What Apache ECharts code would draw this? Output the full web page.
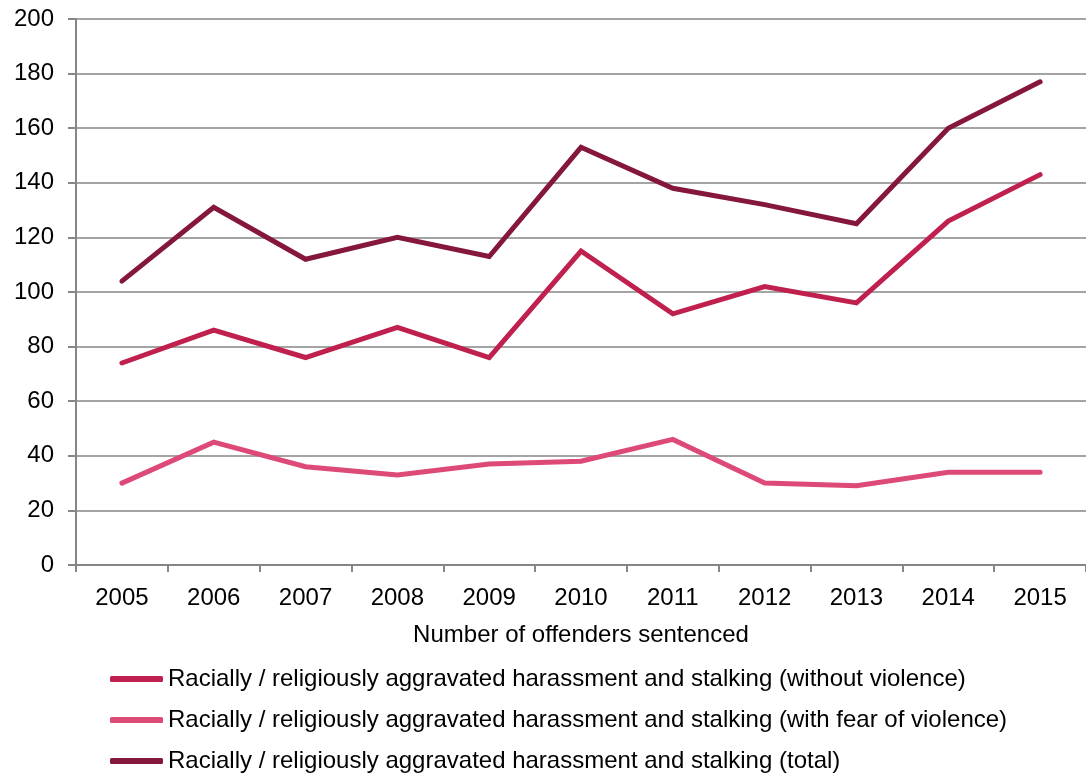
<!DOCTYPE html>
<html>
<head>
<meta charset="utf-8">
<script src="https://cdn.jsdelivr.net/npm/echarts@6/dist/echarts.min.js"></script>
<style>
  html, body { margin: 0; padding: 0; background: #fff; }
  #chart { width: 1086px; height: 778px; }
</style>
</head>
<body>
<div id="chart"></div>
<script>
// Offenders sentenced for racially / religiously aggravated harassment and stalking
const years = ['2005', '2006', '2007', '2008', '2009', '2010', '2011', '2012', '2013', '2014', '2015'];
const withoutViolence = [74, 86, 76, 87, 76, 115, 92, 102, 96, 126, 143];
const fearOfViolence = [30, 45, 36, 33, 37, 38, 46, 30, 29, 34, 34];
const totalOffenders = [104, 131, 112, 120, 113, 153, 138, 132, 125, 160, 177];

const seriesNames = [
  'Racially / religiously aggravated harassment and stalking (without violence)',
  'Racially / religiously aggravated harassment and stalking (with fear of violence)',
  'Racially / religiously aggravated harassment and stalking (total)'
];
const colors = ['#C0204E', '#DE4A77', '#85183A'];

const FONT = '"Liberation Sans", Arial, sans-serif';
const FONT_SIZE = 24;
const axisGrey = '#868686';

function lineSeries(name, data, color) {
  return {
    name: name,
    type: 'line',
    data: data,
    symbol: 'none',
    showSymbol: false,
    itemStyle: { color: color },
    lineStyle: { color: color, width: 5, cap: 'round', join: 'miter' },
    emphasis: { disabled: true },
    animation: false
  };
}

const chart = echarts.init(document.getElementById('chart'), null, { renderer: 'canvas' });
chart.setOption({
  backgroundColor: '#ffffff',
  animation: false,
  textStyle: { fontFamily: FONT, color: '#000' },
  grid: { left: 76, right: 0, top: 19, bottom: 213, containLabel: false },
  xAxis: {
    type: 'category',
    data: years,
    boundaryGap: true,
    name: 'Number of offenders sentenced',
    nameLocation: 'middle',
    nameGap: 58,
    nameTextStyle: { fontFamily: FONT, fontSize: FONT_SIZE, color: '#000' },
    axisLine: { lineStyle: { color: axisGrey, width: 2 } },
    axisTick: { show: true, alignWithLabel: false, length: 7, lineStyle: { color: axisGrey, width: 2 } },
    axisLabel: { fontFamily: FONT, fontSize: FONT_SIZE, color: '#000', margin: 21 },
    splitLine: { show: false }
  },
  yAxis: {
    type: 'value',
    min: 0,
    max: 200,
    interval: 20,
    axisLine: { show: true, lineStyle: { color: axisGrey, width: 2 } },
    axisTick: { show: true, length: 8, lineStyle: { color: axisGrey, width: 2 } },
    axisLabel: { fontFamily: FONT, fontSize: FONT_SIZE, color: '#000', margin: 22 },
    splitLine: { show: true, lineStyle: { color: axisGrey, width: 1.5 } }
  },
  legend: {
    orient: 'vertical',
    left: 110,
    top: 666,
    padding: 0,
    itemWidth: 53,
    itemHeight: 6,
    itemGap: 15,
    icon: 'roundRect',
    selectedMode: false,
    textStyle: { fontFamily: FONT, fontSize: FONT_SIZE, color: '#000', lineHeight: 26 },
    data: seriesNames
  },
  series: [
    lineSeries(seriesNames[0], withoutViolence, colors[0]),
    lineSeries(seriesNames[1], fearOfViolence, colors[1]),
    lineSeries(seriesNames[2], totalOffenders, colors[2])
  ]
});
</script>
</body>
</html>
